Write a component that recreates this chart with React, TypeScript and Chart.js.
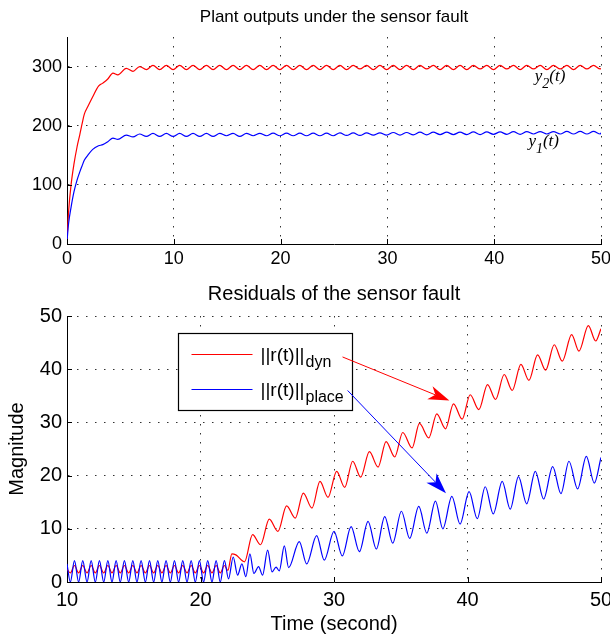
import React, { useEffect, useRef } from "react";
import { Chart, registerables } from "chart.js";

Chart.register(...registerables);

const SANS = "'Liberation Sans', Arial, Helvetica, sans-serif";
const SERIF = "'Liberation Serif', 'Times New Roman', serif";

// ---------------- text ----------------
const topTitle = "Plant outputs under the sensor fault";
const bottomTitle = "Residuals of the sensor fault";
const xAxisTitle = "Time (second)";
const yAxisTitle = "Magnitude";
const legendMain = "||r(t)||";
const legendSubs = ["dyn", "place"];

// ---------------- ticks ----------------
const topXTicks = [0, 10, 20, 30, 40, 50];
const topYTicks = [0, 100, 200, 300];
const botXTicks = [10, 20, 30, 40, 50];
const botYTicks = [0, 10, 20, 30, 40, 50];

// ---------------- top chart: plant outputs ----------------
const outTime = [
  0, 0.15, 0.38, 0.65, 0.94, 1.2, 1.41, 1.63, 1.94, 2.41, 2.95, 3.35, 3.82, 4.3, 4.76, 5.55, 6.18,
  6.8, 7.43, 8.05, 8.68, 9.3, 9.93, 10.55, 11.18, 11.8, 12.43,
  13.05, 13.68, 14.3, 14.93, 15.55, 16.18, 16.8, 17.43, 18.05, 18.68,
  19.3, 19.93, 20.55, 21.18, 21.8, 22.43, 23.05, 23.68, 24.3, 24.93,
  25.55, 26.18, 26.8, 27.43, 28.05, 28.68, 29.3, 29.93, 30.55, 31.18,
  31.8, 32.43, 33.05, 33.68, 34.3, 34.93, 35.55, 36.18, 36.8, 37.43,
  38.05, 38.68, 39.3, 39.93, 40.55, 41.18, 41.8, 42.43, 43.05, 43.68,
  44.3, 44.93, 45.55, 46.18, 46.8, 47.43, 48.05, 48.68, 49.3, 49.93,
  50,
];
const y2Out = [
  8, 55, 100, 135, 164, 185, 203, 220, 232, 249, 267, 272, 279, 289, 286, 297, 292,
  300, 295, 302, 295, 302, 295, 302, 295, 302, 295,
  302, 295, 302, 295, 302, 295, 302, 295, 302, 295,
  302, 295, 302, 295, 302, 295, 302, 295, 302, 295,
  302, 295, 302, 296, 302, 295, 302, 295, 302, 295,
  302, 295, 302, 296, 302, 295, 302, 295, 302, 295,
  302, 296, 302, 295, 302, 296, 302, 295, 302, 296,
  302, 295, 302, 296, 302, 295, 302, 296, 302, 296,
  297,
];
const y1Out = [
  5, 35, 62, 88, 108, 122, 132, 142, 150, 160, 166, 168, 173, 179, 177, 184, 181,
  186, 182, 187, 182, 187, 182, 187, 182, 187, 182,
  187, 182, 187, 183, 187, 182, 187, 183, 187, 183,
  187.5, 183, 187.5, 183, 187.5, 183, 187.5, 183, 187.5, 183,
  188, 183.5, 188, 183.5, 188, 184, 188, 184, 188.5, 184,
  188.5, 184.5, 189, 184.5, 189, 185, 189, 185, 189, 185,
  189.5, 185, 189.5, 185.5, 189.5, 185.5, 190, 185.5, 190, 186,
  190, 186, 190, 186, 190.5, 186, 190.5, 186, 190.5, 186,
  188,
];

// ---------------- bottom chart: residual norms ----------------
const dynTime = [
  10,
  10.25, 10.56, 10.87, 11.18, 11.5, 11.81, 12.12, 12.43, 12.75, 13.06,
  13.37, 13.68, 13.99, 14.3, 14.62, 14.93, 15.24, 15.55, 15.87, 16.18,
  16.49, 16.8, 17.11, 17.42, 17.74, 18.05, 18.36, 18.67, 18.99, 19.3,
  19.61, 19.92, 20.23, 20.54, 20.86, 21.17, 21.48, 21.79,
  22.05, 22.35, 22.65, 23.3,
  23.9, 24.5, 25.15, 25.8, 26.45, 27.1, 27.7, 28.35, 28.95, 29.55,
  30.2, 30.8, 31.4, 32.0, 32.65, 33.3, 33.9, 34.55, 35.15, 35.85,
  36.4, 37.1, 37.7, 38.35, 38.95, 39.6, 40.2, 40.85, 41.5, 42.1,
  42.75, 43.35, 44.0, 44.6, 45.25, 45.85, 46.5, 47.1, 47.8, 48.35,
  49.05, 49.6, 50,
];
const dynRes = [
  2.4,
  1.7, 3.1, 1.7, 3.1, 1.7, 3.1, 1.7, 3.1, 1.7, 3.1,
  1.7, 3.1, 1.7, 3.1, 1.7, 3.1, 1.7, 3.1, 1.7, 3.1,
  1.7, 3.1, 1.7, 3.1, 1.7, 3.1, 1.7, 3.1, 1.7, 3.1,
  1.7, 3.1, 1.7, 3.1, 1.7, 3.1, 1.7, 3.1,
  2.2, 5.3, 5.1, 3.8,
  8.9, 7.0, 11.8, 9.5, 14.3, 12.0, 16.7, 13.9, 18.9, 15.9,
  20.8, 17.8, 22.7, 19.7, 24.5, 21.6, 26.4, 23.5, 28.1, 25.2,
  29.8, 27.1, 31.6, 28.8, 33.5, 30.6, 35.2, 32.4, 37.1, 34.3,
  39.0, 36.0, 40.9, 37.9, 42.7, 39.8, 44.6, 41.5, 46.5, 43.4,
  48.2, 45.3, 47.6,
];
const placeTime = [
  10,
  10.25, 10.56, 10.87, 11.18, 11.5, 11.81, 12.12, 12.43, 12.75, 13.06,
  13.37, 13.68, 13.99, 14.3, 14.62, 14.93, 15.24, 15.55, 15.87, 16.18,
  16.49, 16.8, 17.11, 17.42, 17.74, 18.05, 18.36, 18.67, 18.99, 19.3,
  19.61, 19.92, 20.23, 20.54, 20.86, 21.17, 21.48, 21.79,
  22.1, 22.45, 22.78, 23.1, 23.4, 23.7, 24.0, 24.35, 24.65, 25.03,
  25.36, 25.66, 25.9, 26.28, 26.6, 27.4, 27.95, 28.7, 29.27, 30.0,
  30.62, 31.28, 31.9, 32.55, 33.17, 33.8, 34.4, 35.05, 35.67, 36.35,
  36.95, 37.6, 38.15, 38.83, 39.44, 40.12, 40.73, 41.33, 41.93, 42.6,
  43.2, 43.82, 44.43, 45.08, 45.7, 46.38, 47.0, 47.6, 48.25, 48.9,
  49.5, 50,
];
const placeRes = [
  3.4,
  0, 4.0, 0, 4.0, 0, 4.0, 0, 4.0, 0, 4.0,
  0, 4.0, 0, 4.0, 0, 4.0, 0, 4.0, 0, 4.0,
  0, 4.0, 0, 4.0, 0, 4.0, 0, 4.0, 0, 4.0,
  0, 4.0, 0, 4.0, 0, 4.0, 0, 4.0,
  0.6, 4.7, 1.3, 3.4, 1.0, 5.3, 1.6, 2.9, 1.3, 6.0,
  1.9, 2.8, 2.1, 6.8, 2.7, 7.6, 3.4, 8.7, 4.1, 9.5,
  4.9, 10.4, 5.7, 11.4, 6.2, 12.3, 7.3, 13.3, 8.2, 14.2,
  9.2, 15.2, 10.0, 16.1, 10.9, 17.0, 11.9, 17.9, 12.8, 18.9,
  13.7, 19.8, 14.7, 20.8, 15.6, 21.7, 16.6, 22.7, 17.5, 23.6,
  18.6, 23.4,
];

// ---------------- annotation anchors (data coordinates) ----------------
const y2LabelAt = [43.8, 275];
const y1LabelAt = [43.2, 165];
const legendBoxAt = [18.28, 46.8, 31.35, 32.4]; // t0, vTop, t1, vBottom
const dynArrow = [30.64, 42.3, 38.64, 34.1];
const placeArrow = [31.02, 36.0, 38.39, 16.7];

const RED = "#ff0000";
const BLUE = "#0000ff";

const zip = (xs: number[], ys: number[]) => xs.map((x, i) => ({ x, y: ys[i] }));

function axis(
  min: number,
  max: number,
  ticks: number[],
  fontSize: number,
  pad: number,
  isX: boolean,
  size: number
) {
  return {
    type: "linear" as const,
    min,
    max,
    afterBuildTicks: (s: any) => {
      s.ticks = ticks.map((v) => ({ value: v }));
    },
    afterFit: (s: any) => {
      if (isX) s.height = size;
      else s.width = size;
      s.paddingLeft = 0;
      s.paddingRight = 0;
      s.paddingTop = 0;
      s.paddingBottom = 0;
    },
    ticks: {
      font: { family: SANS, size: fontSize },
      color: "#000",
      padding: pad,
      maxRotation: 0,
      autoSkip: false,
    },
    grid: { drawTicks: false, color: "rgba(0,0,0,0.8)", lineWidth: 1 },
    border: { display: true, color: "#000", width: 1, dash: [1.5, 7.5] },
  };
}

const inwardTicks = {
  id: "inwardTicks",
  afterDatasetsDraw(chart: any) {
    const { ctx, chartArea: a, scales } = chart;
    const x = scales.x;
    const y = scales.y;
    ctx.save();
    ctx.strokeStyle = "#000";
    ctx.lineWidth = 1;
    ctx.beginPath();
    x.ticks.forEach((t: any) => {
      const px = Math.round(x.getPixelForValue(t.value)) + 0.5;
      ctx.moveTo(px, a.bottom);
      ctx.lineTo(px, a.bottom - 5);
    });
    y.ticks.forEach((t: any) => {
      const py = Math.round(y.getPixelForValue(t.value)) + 0.5;
      ctx.moveTo(a.left, py);
      ctx.lineTo(a.left + 5, py);
    });
    ctx.stroke();
    ctx.restore();
  },
};

function drawSubLabel(ctx: any, x: number, y: number, sub: string) {
  ctx.font = `italic 17px ${SERIF}`;
  ctx.textAlign = "left";
  ctx.textBaseline = "alphabetic";
  ctx.fillText("y", x, y);
  const w1 = ctx.measureText("y").width;
  ctx.font = `italic 14px ${SERIF}`;
  ctx.fillText(sub, x + w1, y + 7);
  const w2 = ctx.measureText(sub).width;
  ctx.font = `italic 17px ${SERIF}`;
  ctx.fillText("(t)", x + w1 + w2, y);
}

const topDecor = {
  id: "topDecor",
  afterDraw(chart: any) {
    const { ctx, chartArea: a, scales } = chart;
    const x = scales.x;
    const y = scales.y;
    ctx.save();
    ctx.fillStyle = "#000";
    ctx.font = `17px ${SANS}`;
    ctx.textAlign = "center";
    ctx.textBaseline = "alphabetic";
    ctx.fillText(topTitle, (a.left + a.right) / 2, 22);
    drawSubLabel(ctx, x.getPixelForValue(y2LabelAt[0]), y.getPixelForValue(y2LabelAt[1]), "2");
    drawSubLabel(ctx, x.getPixelForValue(y1LabelAt[0]), y.getPixelForValue(y1LabelAt[1]), "1");
    ctx.restore();
  },
};

function drawArrow(ctx: any, x1: number, y1: number, x2: number, y2: number, color: string) {
  const dx = x2 - x1;
  const dy = y2 - y1;
  const len = Math.hypot(dx, dy);
  const ux = dx / len;
  const uy = dy / len;
  const nx = -uy;
  const ny = ux;
  const L = 21;
  const W = 7;
  const bx = x2 - L * ux;
  const by = y2 - L * uy;
  const notchX = x2 - L * 0.72 * ux;
  const notchY = y2 - L * 0.72 * uy;
  ctx.strokeStyle = color;
  ctx.fillStyle = color;
  ctx.lineWidth = 1;
  ctx.beginPath();
  ctx.moveTo(x1, y1);
  ctx.lineTo(notchX, notchY);
  ctx.stroke();
  ctx.beginPath();
  ctx.moveTo(x2, y2);
  ctx.lineTo(bx + W * nx, by + W * ny);
  ctx.lineTo(notchX, notchY);
  ctx.lineTo(bx - W * nx, by - W * ny);
  ctx.closePath();
  ctx.fill();
}

const bottomDecor = {
  id: "bottomDecor",
  afterDraw(chart: any) {
    const { ctx, chartArea: a, scales } = chart;
    const x = scales.x;
    const y = scales.y;
    ctx.save();
    ctx.fillStyle = "#000";
    ctx.font = `20px ${SANS}`;
    ctx.textAlign = "center";
    ctx.textBaseline = "alphabetic";
    ctx.fillText(bottomTitle, (a.left + a.right) / 2, 30);

    ctx.textBaseline = "middle";
    ctx.fillText(xAxisTitle, (a.left + a.right) / 2, 354);
    ctx.save();
    ctx.translate(17.5, (a.top + a.bottom) / 2);
    ctx.rotate(-Math.PI / 2);
    ctx.fillText(yAxisTitle, 0, 0);
    ctx.restore();

    // legend box
    const L = Math.round(x.getPixelForValue(legendBoxAt[0])) + 0.5;
    const T = Math.round(y.getPixelForValue(legendBoxAt[1])) + 0.5;
    const R = Math.round(x.getPixelForValue(legendBoxAt[2])) + 0.5;
    const B = Math.round(y.getPixelForValue(legendBoxAt[3])) + 0.5;
    ctx.fillStyle = "#fff";
    ctx.fillRect(L, T, R - L, B - T);
    ctx.strokeStyle = "#000";
    ctx.lineWidth = 1.2;
    ctx.strokeRect(L, T, R - L, B - T);
    const rows = [
      { color: RED, sub: legendSubs[0], dy: 21 },
      { color: BLUE, sub: legendSubs[1], dy: 56 },
    ];
    rows.forEach((r) => {
      ctx.strokeStyle = r.color;
      ctx.lineWidth = 1.2;
      ctx.beginPath();
      ctx.moveTo(L + 13, T + r.dy);
      ctx.lineTo(L + 74, T + r.dy);
      ctx.stroke();
      ctx.fillStyle = "#000";
      ctx.textAlign = "left";
      ctx.textBaseline = "alphabetic";
      ctx.font = `19px ${SANS}`;
      ctx.fillText(legendMain, L + 82, T + r.dy + 6);
      const w = ctx.measureText(legendMain).width;
      ctx.font = `16px ${SANS}`;
      ctx.fillText(r.sub, L + 83 + w, T + r.dy + 12);
    });

    drawArrow(
      ctx,
      x.getPixelForValue(dynArrow[0]),
      y.getPixelForValue(dynArrow[1]),
      x.getPixelForValue(dynArrow[2]),
      y.getPixelForValue(dynArrow[3]),
      RED
    );
    drawArrow(
      ctx,
      x.getPixelForValue(placeArrow[0]),
      y.getPixelForValue(placeArrow[1]),
      x.getPixelForValue(placeArrow[2]),
      y.getPixelForValue(placeArrow[3]),
      BLUE
    );
    ctx.restore();
  },
};

const lineStyle = (color: string) => ({
  borderColor: color,
  backgroundColor: color,
  borderWidth: 1.2,
  pointRadius: 0,
  fill: false,
  cubicInterpolationMode: "monotone" as const,
});

function topConfig(): any {
  return {
    type: "line",
    data: {
      datasets: [
        { ...lineStyle(BLUE), data: zip(outTime, y1Out) },
        { ...lineStyle(RED), data: zip(outTime, y2Out) },
      ],
    },
    options: {
      animation: false,
      responsive: false,
      devicePixelRatio: 1,
      parsing: true,
      layout: { padding: { top: 37, right: 9, left: 0, bottom: 0 } },
      scales: {
        x: axis(0, 50, topXTicks, 18, 4, true, 26),
        y: axis(0, 350, topYTicks, 18, 5, false, 67),
      },
      plugins: { legend: { display: false }, tooltip: { enabled: false }, title: { display: false } },
    },
    plugins: [inwardTicks, topDecor],
  };
}

function bottomConfig(): any {
  return {
    type: "line",
    data: {
      datasets: [
        { ...lineStyle(BLUE), data: zip(placeTime, placeRes) },
        { ...lineStyle(RED), data: zip(dynTime, dynRes) },
      ],
    },
    options: {
      animation: false,
      responsive: false,
      devicePixelRatio: 1,
      layout: { padding: { top: 46, right: 9, left: 0, bottom: 0 } },
      scales: {
        x: axis(10, 50, botXTicks, 20, 6, true, 55),
        y: axis(0, 50, botYTicks, 20, 5, false, 67),
      },
      plugins: { legend: { display: false }, tooltip: { enabled: false }, title: { display: false } },
    },
    plugins: [inwardTicks, bottomDecor],
  };
}

function ChartCanvas({ top, height, build }: { top: number; height: number; build: () => any }) {
  const ref = useRef<HTMLCanvasElement | null>(null);
  useEffect(() => {
    if (!ref.current) return;
    const chart = new Chart(ref.current, build());
    return () => chart.destroy();
  }, []);
  return (
    <canvas
      ref={ref}
      width={610}
      height={height}
      style={{ position: "absolute", left: 0, top, width: 610, height, display: "block" }}
    />
  );
}

export default function App() {
  return (
    <div style={{ position: "absolute", left: 0, top: 0, width: 610, height: 637, background: "#fff" }}>
      <ChartCanvas top={0} height={270} build={topConfig} />
      <ChartCanvas top={270} height={367} build={bottomConfig} />
    </div>
  );
}
